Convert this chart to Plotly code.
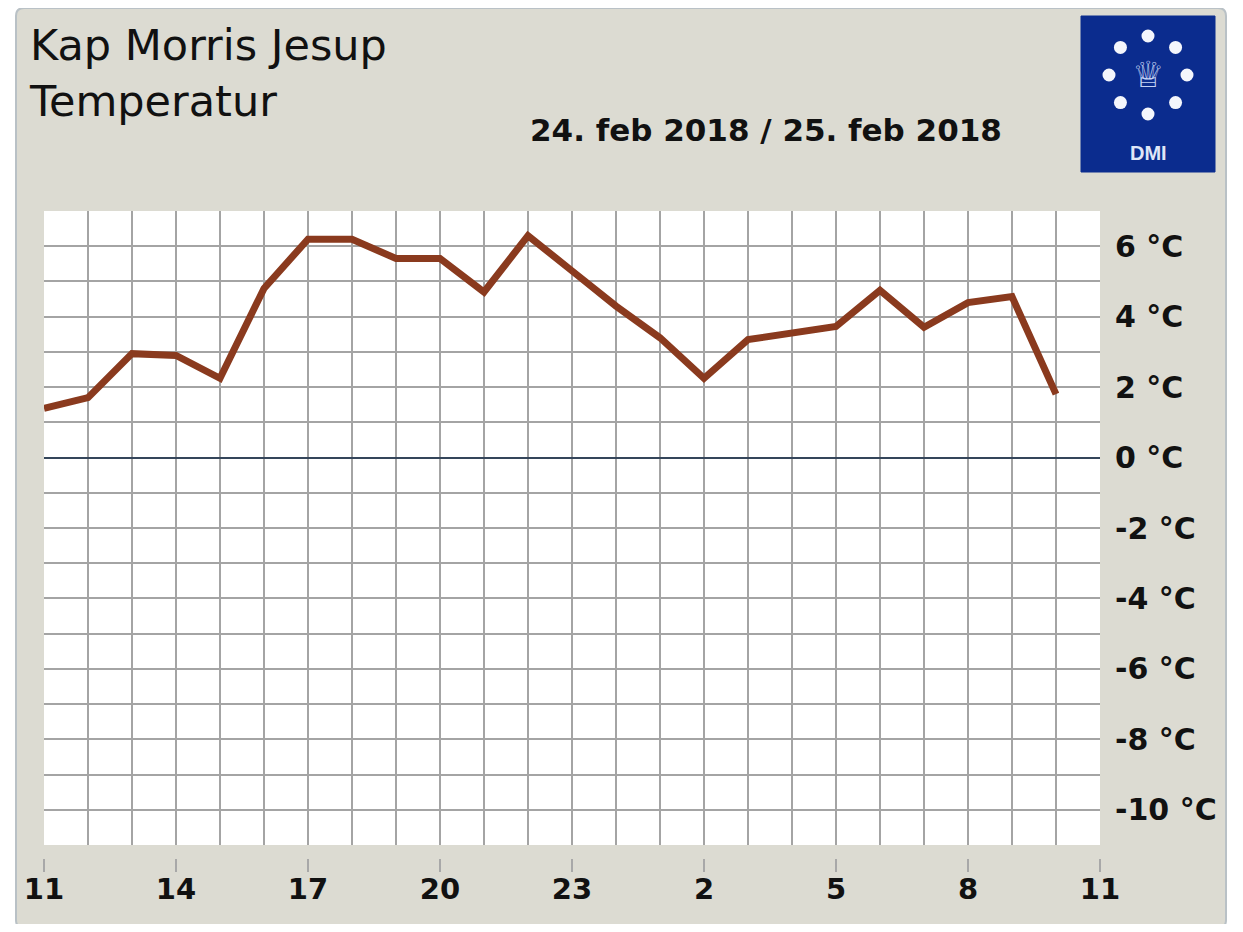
import plotly.graph_objects as go

# ---- data ----
times = [
    "2018-02-24 11:00", "2018-02-24 12:00", "2018-02-24 13:00", "2018-02-24 14:00",
    "2018-02-24 15:00", "2018-02-24 16:00", "2018-02-24 17:00", "2018-02-24 18:00",
    "2018-02-24 19:00", "2018-02-24 20:00", "2018-02-24 21:00", "2018-02-24 22:00",
    "2018-02-24 23:00", "2018-02-25 00:00", "2018-02-25 01:00", "2018-02-25 02:00",
    "2018-02-25 03:00", "2018-02-25 04:00", "2018-02-25 05:00", "2018-02-25 06:00",
    "2018-02-25 07:00", "2018-02-25 08:00", "2018-02-25 09:00", "2018-02-25 10:00",
]
temps = [1.4, 1.7, 2.95, 2.9, 2.25, 4.8, 6.2, 6.2, 5.65, 5.65, 4.7, 6.3,
         5.3, 4.3, 3.4, 2.25, 3.35, 3.55, 3.72, 4.75, 3.7, 4.4, 4.57, 1.8]

x_tickvals = ["2018-02-24 11:00", "2018-02-24 14:00", "2018-02-24 17:00",
              "2018-02-24 20:00", "2018-02-24 23:00", "2018-02-25 02:00",
              "2018-02-25 05:00", "2018-02-25 08:00", "2018-02-25 11:00"]
x_ticktext = ["11", "14", "17", "20", "23", "2", "5", "8", "11"]
y_tickvals = [-10, -8, -6, -4, -2, 0, 2, 4, 6]
y_ticktext = ["-10 °C", "-8 °C", "-6 °C", "-4 °C", "-2 °C", "0 °C", "2 °C", "4 °C", "6 °C"]

title_lines = ["Kap Morris Jesup", "Temperatur"]
date_text = "24. feb 2018 / 25. feb 2018"

# ---- geometry helpers (screen pixels -> paper) ----
OFF = 8                      # page body margin
W, H = 1243 - 2 * OFF, 932 - 2 * OFF
L, R, T, B = 44 - OFF, W - (1100 - OFF), 211 - OFF, 24
PW, PH = W - L - R, H - T - B


def px(x):
    return (x - OFF - L) / PW


def py(y):
    return (H - B - (y - OFF)) / PH


BG = "#dcdbd2"
GRID = "#a4a4a4"
FONT = "DejaVu Sans"

fig = go.Figure()
fig.add_trace(go.Scatter(
    x=times, y=temps, mode="lines",
    line=dict(color="#8a3a1e", width=7),
    hoverinfo="x+y", showlegend=False,
))

shapes = []
# outer frame
x0, x1, y0, y1 = px(16), px(1226), py(8), py(928)
rx, ry = 8 / PW, 8 / PH
path = (f"M {x0+rx},{y0} L {x1-rx},{y0} Q {x1},{y0} {x1},{y0-ry} "
        f"L {x1},{y1+ry} Q {x1},{y1} {x1-rx},{y1} L {x0+rx},{y1} "
        f"Q {x0},{y1} {x0},{y1+ry} L {x0},{y0-ry} Q {x0},{y0} {x0+rx},{y0} Z")
shapes.append(dict(type="path", path=path, xref="paper", yref="paper",
                   fillcolor=BG, line=dict(color="#b9c1c6", width=2), layer="below"))
# white plotting area
shapes.append(dict(type="rect", xref="x domain", yref="y domain", x0=0, x1=1, y0=0, y1=1,
                   fillcolor="white", line=dict(width=0), layer="below"))
# DMI logo
shapes.append(dict(type="rect", xref="paper", yref="paper",
                   x0=px(1081), x1=px(1215), y0=py(172), y1=py(16),
                   fillcolor="#0b2c8e", line=dict(color="#0b2c8e", width=1)))
cx, cy, rad, dr = 1148, 75, 39, 6.5
dots = [(0, -1), (0.707, -0.707), (1, 0), (0.707, 0.707), (0, 1),
        (-0.707, 0.707), (-1, 0), (-0.707, -0.707)]
for dx, dy in dots:
    ux, uy = cx + dx * rad, cy + dy * rad
    shapes.append(dict(type="circle", xref="paper", yref="paper",
                       x0=px(ux - dr), x1=px(ux + dr), y0=py(uy + dr), y1=py(uy - dr),
                       fillcolor="#f4f6fc", line=dict(width=0)))

annotations = [
    dict(text="<br>".join(title_lines), xref="paper", yref="paper",
         x=px(27), y=py(18), xanchor="left", yanchor="top", align="left",
         showarrow=False, font=dict(family=FONT, size=43, color="#111111")),
    dict(text=date_text, xref="paper", yref="paper",
         x=px(766), y=py(130), xanchor="center", yanchor="middle",
         showarrow=False, font=dict(family=FONT, size=31, color="#111111", weight="bold")),
    dict(text="♕", xref="paper", yref="paper", x=px(cx), y=py(cy - 1),
         xanchor="center", yanchor="middle", showarrow=False,
         font=dict(family=FONT, size=36, color="#c3d2f4")),
    dict(text="<b>DMI</b>", xref="paper", yref="paper", x=px(cx), y=py(153),
         xanchor="center", yanchor="middle", showarrow=False,
         font=dict(family="Liberation Sans", size=20, color="#dfe6f7")),
]

fig.update_layout(
    width=W, height=H,
    margin=dict(l=L, r=R, t=T, b=B, pad=0),
    paper_bgcolor="white", plot_bgcolor="white",
    shapes=shapes, annotations=annotations,
    xaxis=dict(
        type="date", range=["2018-02-24 11:00", "2018-02-25 11:00"],
        tickmode="array", tickvals=x_tickvals, ticktext=x_ticktext,
        showgrid=True, gridcolor=GRID, gridwidth=1.5,
        minor=dict(tickmode="linear", tick0="2018-02-24 11:00", dtick=3600000,
                   showgrid=True, gridcolor=GRID, gridwidth=1.5, ticks=""),
        ticks="outside", ticklen=13, tickwidth=1.5, tickcolor="#a8a8a8",
        tickfont=dict(family=FONT, size=29, color="#111111", weight="bold"),
        ticklabelstandoff=-8,
        anchor="free", position=py(858), showline=False, zeroline=False,
        fixedrange=True,
    ),
    yaxis=dict(
        range=[-11, 7], domain=[py(845), 1], side="right",
        tickmode="array", tickvals=y_tickvals, ticktext=y_ticktext,
        showgrid=True, gridcolor=GRID, gridwidth=1.5,
        minor=dict(tickmode="linear", tick0=-11, dtick=1, showgrid=True,
                   gridcolor=GRID, gridwidth=1.5, ticks=""),
        zeroline=True, zerolinecolor="#34455a", zerolinewidth=1.5,
        ticks="", ticklabelstandoff=14,
        tickfont=dict(family=FONT, size=30, color="#111111", weight="bold"),
        showline=False, fixedrange=True,
    ),
)

fig.write_html("out.html")
